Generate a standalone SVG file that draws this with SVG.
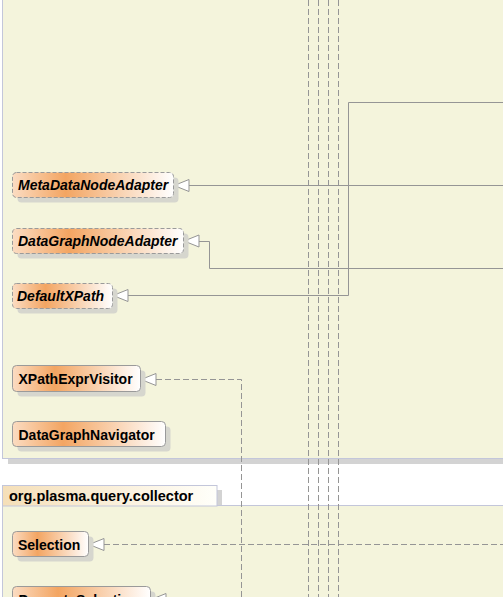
<svg xmlns="http://www.w3.org/2000/svg" width="503" height="597" viewBox="0 0 503 597">
<style>
.pkg{fill:#f4f4dc;stroke:#c3c6da;stroke-width:1}
.pshadow{fill:#d3d3d3}
.nshadow{fill:#d6d6ce}
.node{fill:url(#ng);stroke:#9a9a9a;stroke-width:1}
.abs{stroke-dasharray:4,2}
.t{font-family:"Liberation Sans",Arial,sans-serif;font-size:14px;font-weight:bold;fill:#000}
.ti{font-style:italic}
.c{fill:none;stroke:#959595;stroke-width:1}
.d{stroke-dasharray:6,3}
.head{fill:#fff;stroke:#959595;stroke-width:1}
</style>
<defs>
<linearGradient id="ng" x1="0" y1="0" x2="1" y2="0">
<stop offset="0" stop-color="#fbdcc2"/>
<stop offset="0.33" stop-color="#f3a562"/>
<stop offset="1" stop-color="#ffffff"/>
</linearGradient>
<linearGradient id="tg" x1="0" y1="0" x2="1" y2="0">
<stop offset="0" stop-color="#f5dfb8"/>
<stop offset="1" stop-color="#fffffa"/>
</linearGradient>
</defs>
<rect x="0" y="0" width="503" height="597" fill="#ffffff"/>
<g id="pkg-top">
<rect class="pshadow" x="8" y="459" width="500" height="5"/>
<rect class="pkg" x="2.5" y="-10" width="510" height="468.5"/>
</g>
<g id="pkg-collector">
<rect class="pshadow" x="217" y="490" width="5" height="16"/>
<rect class="pkg" x="2.5" y="505.5" width="510" height="110"/>
<rect x="2.5" y="485.5" width="214.5" height="20.5" fill="url(#tg)" stroke="#c3c6da" stroke-width="1"/>
<text class="t" x="9" y="501" style="font-size:14.5px">org.plasma.query.collector</text>
</g>
<g id="connectors">
<line class="c d" x1="308.5" y1="0" x2="308.5" y2="597"/>
<line class="c d" x1="318.5" y1="0" x2="318.5" y2="597"/>
<line class="c d" x1="328.5" y1="0" x2="328.5" y2="597"/>
<line class="c d" x1="338.5" y1="0" x2="338.5" y2="597"/>
<path class="c" d="M189,185.5 H503"/>
<polygon class="head" points="174,185.5 189,179.5 189,191.5"/>
<path class="c" d="M199,241.5 H209.5 V268.5 H503"/>
<polygon class="head" points="184,241 199,235 199,247"/>
<path class="c" d="M128,295.5 H348.5 V102.5 H503"/>
<polygon class="head" points="113,295.5 128,289.5 128,301.5"/>
<path class="c d" d="M156,379.5 H241.5 V597"/>
<polygon class="head" points="141,379.5 156,373.5 156,385.5"/>
<path class="c d" d="M104,544.5 H503"/>
<polygon class="head" points="89,544.5 104,538.5 104,550.5"/>
<path class="c d" d="M166,599.5 H241.5"/>
<polygon class="head" points="151,599.5 166,593.5 166,605.5"/>
</g>
<g id="MetaDataNodeAdapter">
<rect class="nshadow" x="17.5" y="177.5" width="161" height="25" rx="4"/>
<rect class="node abs" x="12.5" y="172.5" width="161" height="25" rx="4"/>
<text class="t ti" x="18" y="190">MetaDataNodeAdapter</text>
</g>
<g id="DataGraphNodeAdapter">
<rect class="nshadow" x="17.5" y="233.5" width="171" height="25" rx="4"/>
<rect class="node abs" x="12.5" y="228.5" width="171" height="25" rx="4"/>
<text class="t ti" x="18" y="246">DataGraphNodeAdapter</text>
</g>
<g id="DefaultXPath">
<rect class="nshadow" x="17.5" y="288.5" width="100" height="25" rx="4"/>
<rect class="node abs" x="12.5" y="283.5" width="100" height="25" rx="4"/>
<text class="t ti" x="17" y="301">DefaultXPath</text>
</g>
<g id="XPathExprVisitor">
<rect class="nshadow" x="17.5" y="370.5" width="128" height="26" rx="4"/>
<rect class="node" x="12.5" y="365.5" width="128" height="26" rx="4"/>
<text class="t" x="18.5" y="384">XPathExprVisitor</text>
</g>
<g id="DataGraphNavigator">
<rect class="nshadow" x="17.5" y="426.5" width="153" height="25" rx="4"/>
<rect class="node" x="12.5" y="421.5" width="153" height="25" rx="4"/>
<text class="t" x="18.5" y="440">DataGraphNavigator</text>
</g>
<g id="Selection">
<rect class="nshadow" x="17.5" y="536.5" width="76" height="25" rx="4"/>
<rect class="node" x="12.5" y="531.5" width="76" height="25" rx="4"/>
<text class="t" x="18" y="550">Selection</text>
</g>
<g id="PropertySelection">
<rect class="nshadow" x="17.5" y="591.5" width="138" height="25" rx="4"/>
<rect class="node" x="12.5" y="586.5" width="138" height="25" rx="4"/>
<text class="t" x="18.5" y="605">PropertySelection</text>
</g>
</svg>
